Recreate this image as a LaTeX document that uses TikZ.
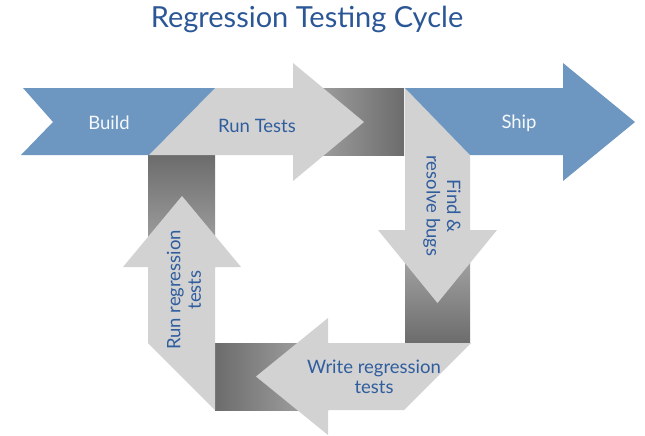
\documentclass[tikz,border=0pt]{standalone}
\usepackage{fontspec}
\setmainfont{Lato}
\definecolor{arrowblue}{HTML}{6D96C1}
\definecolor{lightgr}{HTML}{D2D2D2}
\definecolor{txtblue}{HTML}{2F5D9E}
\definecolor{titleblue}{HTML}{2B5797}
\definecolor{darkgr}{HTML}{6C6C6C}
\definecolor{midgr}{HTML}{ACACAC}
\tikzset{
  bluearrow/.style={fill=arrowblue, draw=none},
  grayarrow/.style={fill=lightgr, draw=none},
  lbl/.style={font=\fontsize{18.5}{20.5}\selectfont, align=center, inner sep=0pt},
  bluelbl/.style={lbl, text=txtblue},
  whitelbl/.style={lbl, text=white!94!arrowblue},
}
\begin{document}
\begin{tikzpicture}[x=1pt,y=-1pt]
\useasboundingbox (0,0) rectangle (645,436);
% dark gradient blocks
\shade[left color=midgr, right color=darkgr] (293,88) rectangle (404,155);
\shade[top color=midgr!90, bottom color=darkgr] (405,230) rectangle (470,343);
\shade[left color=darkgr, right color=midgr] (215,343) rectangle (328,410);
\shade[top color=darkgr, bottom color=midgr] (148,155) rectangle (215,267);
% gray arrows
\fill[grayarrow] (215,88) -- (293,88) -- (293,63) -- (364,122) -- (293,181) -- (293,155) -- (149,155) -- cycle;
\fill[grayarrow] (405,88) -- (470,155) -- (470,230) -- (497,230) -- (437.5,303) -- (378,230) -- (405,230) -- cycle;
\fill[grayarrow] (471,343) -- (404,410) -- (328,410) -- (328,435) -- (256,376.5) -- (328,318) -- (328,343) -- cycle;
\fill[grayarrow] (148,343) -- (148,267) -- (123,267) -- (182,196) -- (241,267) -- (215,267) -- (215,410) -- cycle;
% blue arrows
\fill[bluearrow] (23,88) -- (215,88) -- (149,155) -- (21,155) -- (53,122) -- cycle;
\fill[bluearrow] (405,88) -- (563,88) -- (563,63) -- (635,122) -- (563,181) -- (563,155) -- (470,155) -- cycle;
% labels
\node[font=\fontsize{29}{32}\selectfont, text=titleblue, inner sep=0pt] (title) at (307,19) {Regression Testing Cycle};
\node[whitelbl] (build) at (109,123) {Build};
\node[bluelbl] (run) at (257,126) {Run Tests};
\node[whitelbl] (ship) at (519,123) {Ship};
\node[bluelbl, rotate=-90] (find) at (442,206) {Find \&\\resolve bugs};
\node[bluelbl] (write) at (374,377) {Write regression\\tests};
\node[bluelbl, rotate=90] (runreg) at (184,290) {Run regression\\tests};
\end{tikzpicture}
\end{document}
